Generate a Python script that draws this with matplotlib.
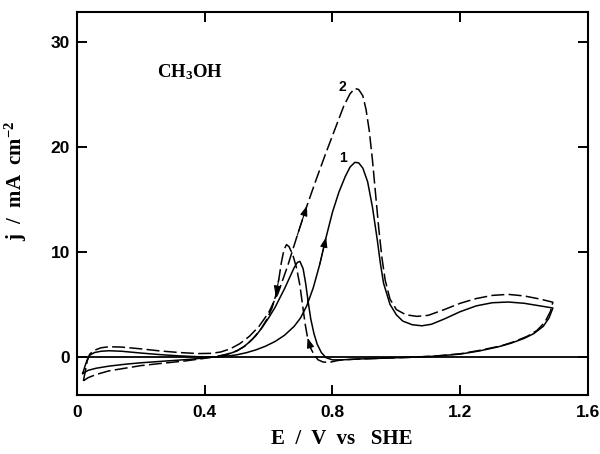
import numpy as np
import matplotlib
matplotlib.use("Agg")
import matplotlib.pyplot as plt

plt.rcParams['mathtext.fontset'] = 'custom'
plt.rcParams['mathtext.rm'] = 'Liberation Serif:bold'
plt.rcParams['mathtext.bf'] = 'Liberation Serif:bold'
plt.rcParams['mathtext.it'] = 'Liberation Serif:bold'
plt.rcParams['mathtext.default'] = 'rm'

# ---- data (E / V vs SHE, j / mA cm-2) ----
c1_fwd_E = [0.018, 0.025, 0.032, 0.040, 0.055, 0.075, 0.100, 0.140, 0.200, 0.260, 0.320, 0.380,
            0.430, 0.470, 0.500, 0.530, 0.560, 0.590, 0.620, 0.650, 0.680, 0.700, 0.720, 0.740,
            0.760, 0.780, 0.800, 0.820, 0.840, 0.855, 0.870, 0.882, 0.895, 0.910, 0.925, 0.940,
            0.950, 0.960, 0.980, 1.000, 1.020, 1.050, 1.080, 1.110, 1.150, 1.200, 1.250, 1.300,
            1.350, 1.400, 1.450, 1.490]
c1_fwd_j = [-1.6, -0.9, -0.3, 0.15, 0.40, 0.52, 0.57, 0.52, 0.35, 0.20, 0.08, 0.00,
            -0.02, 0.05, 0.18, 0.38, 0.65, 1.00, 1.45, 2.05, 2.90, 3.70, 4.90, 6.60,
            8.80, 11.40, 13.80, 15.70, 17.20, 18.10, 18.55, 18.50, 18.00, 16.70, 14.30, 11.20,
            8.90, 7.00, 5.00, 4.00, 3.40, 3.05, 2.95, 3.10, 3.60, 4.30, 4.85, 5.15,
            5.22, 5.10, 4.85, 4.65]
c1_rev_E = [1.490, 1.478, 1.460, 1.430, 1.400, 1.360, 1.320, 1.260, 1.200, 1.120, 1.040, 0.960,
            0.880, 0.830, 0.800, 0.780, 0.765, 0.752, 0.742, 0.732, 0.724, 0.716, 0.708, 0.698,
            0.690, 0.680, 0.665, 0.650, 0.635, 0.620, 0.600, 0.580, 0.560, 0.540, 0.520, 0.500,
            0.470, 0.440, 0.400, 0.340, 0.260, 0.200, 0.150, 0.100, 0.060, 0.035, 0.018]
c1_rev_j = [4.65, 3.70, 2.90, 2.20, 1.75, 1.30, 0.95, 0.55, 0.25, 0.05, -0.06, -0.14,
            -0.22, -0.30, -0.30, -0.10, 0.40, 1.20, 2.20, 3.60, 5.20, 7.00, 8.40, 9.10,
            9.00, 8.50, 7.50, 6.50, 5.60, 4.70, 3.70, 2.80, 2.00, 1.40, 0.90, 0.55,
            0.20, 0.00, -0.12, -0.28, -0.45, -0.58, -0.72, -0.90, -1.10, -1.30, -1.60]

c2_fwd_E = [0.020, 0.026, 0.032, 0.040, 0.055, 0.075, 0.100, 0.140, 0.200, 0.260, 0.320, 0.380,
            0.420, 0.450, 0.480, 0.510, 0.540, 0.570, 0.600, 0.630, 0.660, 0.690, 0.720, 0.750,
            0.780, 0.810, 0.835, 0.855, 0.870, 0.882, 0.895, 0.905, 0.915, 0.925, 0.935, 0.945,
            0.955, 0.965, 0.980, 1.000, 1.030, 1.065, 1.100, 1.150, 1.200, 1.250, 1.300, 1.350,
            1.400, 1.450, 1.490]
c2_fwd_j = [-2.30, -1.40, -0.40, 0.25, 0.62, 0.85, 0.95, 0.92, 0.75, 0.55, 0.40, 0.30,
            0.32, 0.45, 0.75, 1.25, 1.95, 2.90, 4.20, 6.10, 8.70, 11.60, 14.40, 17.00,
            19.50, 21.90, 23.90, 25.10, 25.60, 25.50, 24.90, 23.60, 21.60, 18.80, 15.50, 12.20,
            9.40, 7.30, 5.50, 4.50, 4.00, 3.85, 3.95, 4.50, 5.10, 5.55, 5.85, 5.95,
            5.80, 5.50, 5.20]
c2_rev_E = [1.490, 1.482, 1.465, 1.440, 1.410, 1.370, 1.330, 1.260, 1.200, 1.120, 1.040, 0.960,
            0.880, 0.830, 0.810, 0.790, 0.770, 0.755, 0.742, 0.732, 0.722, 0.714, 0.706, 0.698,
            0.688, 0.676, 0.664, 0.656, 0.648, 0.640, 0.632, 0.622, 0.610, 0.595, 0.575, 0.550,
            0.525, 0.500, 0.470, 0.440, 0.400, 0.340, 0.260, 0.200, 0.150, 0.100, 0.060, 0.035,
            0.020]
c2_rev_j = [5.20, 4.30, 3.30, 2.50, 1.95, 1.45, 1.05, 0.60, 0.28, 0.06, -0.06, -0.14,
            -0.22, -0.30, -0.40, -0.55, -0.50, -0.30, 0.20, 0.80, 1.80, 3.20, 5.00, 6.80,
            8.40, 9.70, 10.50, 10.70, 10.20, 9.00, 7.40, 5.80, 4.60, 3.60, 2.60, 1.70,
            1.00, 0.55, 0.25, 0.05, -0.15, -0.40, -0.65, -0.85, -1.10, -1.35, -1.70, -2.00,
            -2.30]

x_ticks = [0, 0.4, 0.8, 1.2, 1.6]
x_ticklabels = ['0', '0.4', '0.8', '1.2', '1.6']
y_ticks = [0, 10, 20, 30]
y_ticklabels = ['0', '10', '20', '30']
curve_labels = ['1', '2']

# ---- figure ----
fig = plt.figure(figsize=(6.0, 4.54), dpi=100)
ax = fig.add_axes([0.1283, 0.1289, 0.8517, 0.8447])

E1 = c1_fwd_E + c1_rev_E[1:]
J1 = c1_fwd_j + c1_rev_j[1:]
E2 = c2_fwd_E + c2_rev_E[1:]
J2 = c2_fwd_j + c2_rev_j[1:]

ax.plot(E1, J1, color='black', lw=1.1, solid_joinstyle='round')
ln2, = ax.plot(E2, J2, color='black', lw=1.1)
ln2.set_dashes((8.5, 2.8))

ax.axhline(0, color='black', lw=1.3, zorder=1)

def arrow_at(E, J, i):
    ax.annotate('', xy=(E[i + 1], J[i + 1]), xytext=(E[i], J[i]),
                arrowprops=dict(arrowstyle='-|>,head_length=0.6,head_width=0.22',
                                color='black', lw=0.8, shrinkA=0, shrinkB=0))

# arrows along scans
arrow_at(c1_fwd_E, c1_fwd_j, c1_fwd_E.index(0.760))
arrow_at(c2_fwd_E, c2_fwd_j, c2_fwd_E.index(0.690))
arrow_at(c2_rev_E, c2_rev_j, c2_rev_E.index(0.632))
arrow_at(c2_rev_E, c2_rev_j, c2_rev_E.index(0.732))

ax.set_xlim(0, 1.6)
ax.set_ylim(-3.7, 32.9)
ax.set_xticks(x_ticks)
ax.set_xticklabels(x_ticklabels)
ax.set_yticks(y_ticks)
ax.set_yticklabels(y_ticklabels)

for lab in ax.get_xticklabels() + ax.get_yticklabels():
    lab.set_fontfamily('Liberation Sans')
    lab.set_fontweight('bold')
    lab.set_fontsize(12.5)

ax.tick_params(direction='in', length=7, width=1.4, top=True, right=True,
               labeltop=False, labelright=False)
ax.tick_params(axis='x', pad=7)
ax.tick_params(axis='y', pad=5)
for sp in ax.spines.values():
    sp.set_linewidth(1.5)

ax.set_xlabel('E  /  V  vs   SHE', fontfamily='Liberation Serif', fontweight='bold',
              fontsize=15)
ax.set_ylabel('j  /  mA  cm$^{-2}$', fontfamily='Liberation Serif', fontweight='bold',
              fontsize=15)
ax.yaxis.set_label_coords(-0.094, 0.56)
ax.xaxis.set_label_coords(0.518, -0.088)

ax.text(0.25, 27.2, 'CH$_{3}$OH', fontfamily='Liberation Serif', fontweight='bold',
        fontsize=13.5, va='center', ha='left')

pk1 = int(np.argmax(c1_fwd_j))
pk2 = int(np.argmax(c2_fwd_j))
ax.text(c1_fwd_E[pk1] - 0.036, c1_fwd_j[pk1] + 0.4, curve_labels[0], fontfamily='Liberation Sans',
        fontweight='bold', fontsize=10, ha='center', va='center')
ax.text(c2_fwd_E[pk2] - 0.038, c2_fwd_j[pk2] + 0.1, curve_labels[1], fontfamily='Liberation Sans',
        fontweight='bold', fontsize=10, ha='center', va='center')

fig.savefig('out.png', dpi=100)
